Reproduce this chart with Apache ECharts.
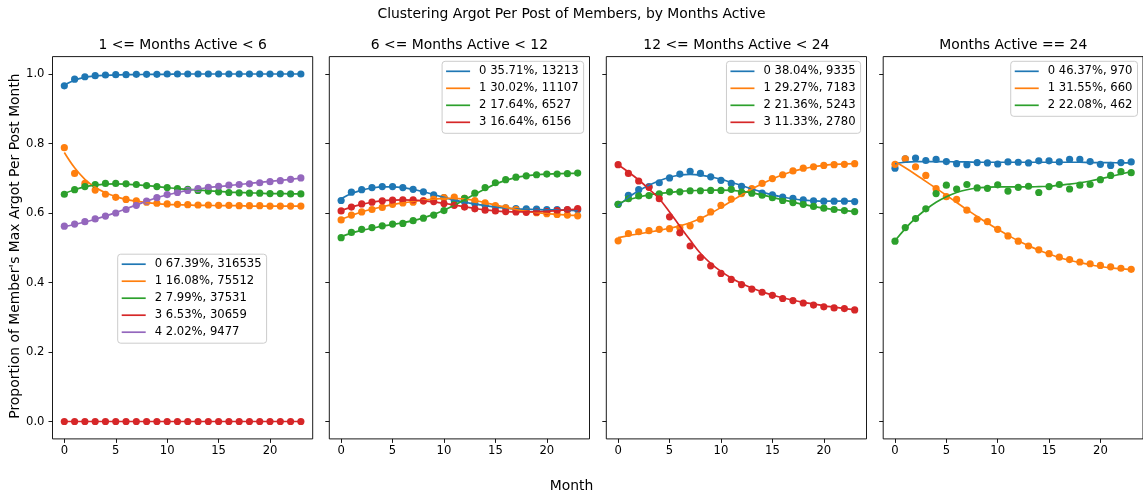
<!DOCTYPE html>
<html>
<head>
<meta charset="utf-8">
<script src="https://cdn.jsdelivr.net/npm/echarts@6/dist/echarts.min.js"></script>
<style>
  html, body { margin: 0; padding: 0; background: #fff; }
  #chart { width: 1143px; height: 499px; }
</style>
</head>
<body>
<div id="chart"></div>
<script>
// Month index along each panel's x axis
const months = [0,1,2,3,4,5,6,7,8,9,10,11,12,13,14,15,16,17,18,19,20,21,22,23];
const xTicks = [0, 5, 10, 15, 20];
const yTicks = [0, 0.2, 0.4, 0.6, 0.8, 1.0];

const suptitle = 'Clustering Argot Per Post of Members, by Months Active';
const panelTitles = ['1 <= Months Active < 6', '6 <= Months Active < 12', '12 <= Months Active < 24', 'Months Active == 24'];
const xLabel = 'Month';
const yLabel = "Proportion of Member's Max Argot Per Post Month";

// Panel 1: 1 <= months active < 6
const p1Names = ['0 67.39%, 316535', '1 16.08%, 75512', '2 7.99%, 37531', '3 6.53%, 30659', '4 2.02%, 9477'];
const p1c0 = [0.966,0.985,0.992,0.995,0.997,0.998,0.998,0.999,0.999,0.999,1.0,1.0,1.0,1.0,1.0,1.0,1.0,1.0,1.0,1.0,1.0,1.0,1.0,1.0];
const p1c1 = [0.788,0.714,0.685,0.666,0.654,0.645,0.639,0.635,0.631,0.628,0.626,0.625,0.624,0.623,0.623,0.622,0.622,0.621,0.621,0.621,0.620,0.620,0.620,0.620];
const p1c2 = [0.654,0.667,0.676,0.682,0.685,0.685,0.684,0.682,0.679,0.676,0.673,0.670,0.668,0.665,0.663,0.661,0.659,0.658,0.657,0.657,0.656,0.656,0.655,0.655];
const p1c3 = [0,0,0,0,0,0,0,0,0,0,0,0,0,0,0,0,0,0,0,0,0,0,0,0];
const p1c4 = [0.562,0.568,0.575,0.583,0.591,0.600,0.610,0.622,0.634,0.644,0.653,0.659,0.665,0.670,0.674,0.677,0.680,0.682,0.684,0.687,0.690,0.693,0.697,0.701];
const p1f0 = [0.968,0.982,0.990,0.994,0.996,0.997,0.998,0.998,0.999,0.999,0.999,1.0,1.0,1.0,1.0,1.0,1.0,1.0,1.0,1.0,1.0,1.0,1.0,1.0];
const p1f1 = [0.774,0.730,0.697,0.674,0.658,0.647,0.639,0.634,0.630,0.627,0.625,0.624,0.623,0.622,0.622,0.621,0.621,0.621,0.620,0.620,0.620,0.620,0.620,0.620];
const p1f2 = [0.656,0.667,0.675,0.680,0.683,0.684,0.683,0.681,0.679,0.676,0.673,0.670,0.668,0.666,0.664,0.662,0.660,0.659,0.658,0.657,0.656,0.656,0.655,0.655];
const p1f3 = [0,0,0,0,0,0,0,0,0,0,0,0,0,0,0,0,0,0,0,0,0,0,0,0];
const p1f4 = [0.561,0.567,0.574,0.582,0.591,0.601,0.612,0.623,0.634,0.644,0.652,0.659,0.665,0.669,0.673,0.676,0.679,0.682,0.685,0.688,0.691,0.694,0.697,0.700];

// Panel 2: 6 <= months active < 12
const p2Names = ['0 35.71%, 13213', '1 30.02%, 11107', '2 17.64%, 6527', '3 16.64%, 6156'];
const p2c0 = [0.636,0.660,0.667,0.673,0.676,0.676,0.673,0.668,0.661,0.652,0.644,0.637,0.632,0.627,0.622,0.618,0.615,0.613,0.612,0.611,0.610,0.610,0.609,0.609];
const p2c1 = [0.580,0.594,0.603,0.610,0.616,0.625,0.629,0.631,0.635,0.640,0.644,0.646,0.642,0.636,0.629,0.621,0.615,0.610,0.604,0.601,0.598,0.596,0.594,0.592];
const p2c2 = [0.529,0.544,0.553,0.558,0.563,0.568,0.570,0.578,0.585,0.594,0.607,0.625,0.642,0.657,0.673,0.687,0.696,0.703,0.707,0.710,0.712,0.712,0.713,0.715];
const p2c3 = [0.606,0.617,0.626,0.631,0.635,0.637,0.638,0.638,0.635,0.633,0.627,0.622,0.617,0.612,0.608,0.606,0.604,0.603,0.602,0.603,0.604,0.607,0.610,0.613];
const p2f0 = [0.641,0.656,0.666,0.672,0.675,0.675,0.673,0.668,0.661,0.653,0.645,0.637,0.631,0.626,0.621,0.617,0.614,0.612,0.611,0.610,0.609,0.609,0.608,0.607];
const p2f1 = [0.582,0.593,0.603,0.611,0.618,0.624,0.629,0.633,0.637,0.640,0.642,0.642,0.640,0.636,0.630,0.623,0.616,0.610,0.605,0.601,0.598,0.596,0.594,0.593];
const p2f2 = [0.532,0.542,0.550,0.556,0.562,0.567,0.572,0.578,0.586,0.596,0.608,0.622,0.638,0.654,0.669,0.683,0.694,0.702,0.707,0.710,0.712,0.713,0.714,0.714];
const p2f3 = [0.607,0.617,0.625,0.631,0.635,0.637,0.638,0.637,0.635,0.632,0.628,0.623,0.618,0.613,0.609,0.606,0.604,0.603,0.603,0.604,0.605,0.607,0.609,0.611];

// Panel 3: 12 <= months active < 24
const p3Names = ['0 38.04%, 9335', '1 29.27%, 7183', '2 21.36%, 5243', '3 11.33%, 2780'];
const p3c0 = [0.625,0.651,0.667,0.676,0.687,0.701,0.712,0.720,0.714,0.704,0.694,0.685,0.677,0.666,0.657,0.652,0.646,0.642,0.638,0.635,0.634,0.634,0.634,0.633];
const p3c1 = [0.520,0.541,0.546,0.549,0.553,0.555,0.558,0.563,0.582,0.603,0.622,0.640,0.656,0.670,0.685,0.699,0.710,0.721,0.729,0.733,0.737,0.739,0.740,0.742];
const p3c2 = [0.625,0.641,0.649,0.650,0.655,0.661,0.661,0.664,0.664,0.665,0.665,0.668,0.660,0.657,0.651,0.644,0.636,0.630,0.625,0.619,0.614,0.610,0.607,0.604];
const p3c3 = [0.739,0.714,0.692,0.674,0.641,0.589,0.543,0.505,0.472,0.448,0.426,0.409,0.394,0.381,0.372,0.363,0.354,0.348,0.341,0.335,0.330,0.327,0.325,0.321];
const p3f0 = [0.620,0.645,0.664,0.680,0.693,0.703,0.709,0.711,0.709,0.704,0.697,0.688,0.679,0.669,0.660,0.652,0.646,0.641,0.637,0.635,0.634,0.634,0.634,0.634];
const p3f1 = [0.529,0.535,0.540,0.545,0.550,0.556,0.563,0.572,0.584,0.599,0.616,0.634,0.652,0.669,0.684,0.698,0.710,0.720,0.727,0.733,0.737,0.740,0.741,0.742];
const p3f2 = [0.627,0.638,0.646,0.652,0.656,0.659,0.662,0.664,0.665,0.666,0.666,0.665,0.662,0.658,0.652,0.645,0.638,0.631,0.625,0.619,0.614,0.610,0.607,0.604];
const p3f3 = [0.739,0.718,0.695,0.669,0.641,0.603,0.562,0.522,0.484,0.455,0.432,0.413,0.397,0.384,0.373,0.364,0.356,0.349,0.343,0.338,0.333,0.329,0.325,0.322];

// Panel 4: months active == 24
const p4Names = ['0 46.37%, 970', '1 31.55%, 660', '2 22.08%, 462'];
const p4c0 = [0.729,0.756,0.758,0.751,0.754,0.748,0.742,0.739,0.745,0.744,0.741,0.747,0.746,0.744,0.750,0.750,0.747,0.754,0.754,0.748,0.740,0.737,0.745,0.747];
const p4c1 = [0.740,0.756,0.733,0.708,0.670,0.647,0.639,0.608,0.582,0.575,0.553,0.534,0.519,0.505,0.494,0.483,0.473,0.466,0.459,0.454,0.449,0.445,0.441,0.438];
const p4c2 = [0.519,0.558,0.584,0.612,0.656,0.680,0.669,0.682,0.672,0.671,0.681,0.663,0.674,0.677,0.659,0.676,0.682,0.669,0.680,0.682,0.696,0.708,0.719,0.716];
const p4f0 = [0.742,0.746,0.748,0.748,0.748,0.748,0.747,0.747,0.746,0.746,0.746,0.746,0.746,0.746,0.746,0.746,0.746,0.746,0.746,0.745,0.745,0.745,0.744,0.744];
const p4f1 = [0.748,0.730,0.711,0.691,0.671,0.651,0.630,0.610,0.590,0.571,0.553,0.536,0.520,0.506,0.493,0.482,0.472,0.464,0.457,0.451,0.446,0.442,0.439,0.437];
const p4f2 = [0.520,0.555,0.585,0.610,0.631,0.647,0.659,0.667,0.672,0.674,0.675,0.675,0.675,0.675,0.676,0.677,0.680,0.683,0.687,0.692,0.698,0.705,0.712,0.719];

const palette = ['#1f77b4', '#ff7f0e', '#2ca02c', '#d62728', '#9467bd'];

const panels = [
  { names: p1Names, points: [p1c0, p1c1, p1c2, p1c3, p1c4], fits: [p1f0, p1f1, p1f2, p1f3, p1f4] },
  { names: p2Names, points: [p2c0, p2c1, p2c2, p2c3], fits: [p2f0, p2f1, p2f2, p2f3] },
  { names: p3Names, points: [p3c0, p3c1, p3c2, p3c3], fits: [p3f0, p3f1, p3f2, p3f3] },
  { names: p4Names, points: [p4c0, p4c1, p4c2], fits: [p4f0, p4f1, p4f2] }
];

// Layout of the four side-by-side axes
const W = 1143;
const FONT = '"DejaVu Sans", sans-serif';
const TICK_PX = 11.6, TITLE_PX = 13.9;
const gridLefts = [52.5, 329.3, 606.3, 883.2];
const gridW = 260.2, gridTop = 56.6, gridH = 382.3;

const grids = [], xAxes = [], yAxes = [], series = [], legends = [], graphics = [];

panels.forEach((panel, p) => {
  grids.push({ left: gridLefts[p], top: gridTop, width: gridW, height: gridH,
    show: true, borderColor: '#000', borderWidth: 0.9, backgroundColor: '#fff' });

  xAxes.push({
    type: 'value', gridIndex: p, min: -1.15, max: 24.15,
    axisLine: { show: false, onZero: false },
    axisTick: { show: true, length: 4, customValues: xTicks, lineStyle: { color: '#000', width: 0.9 } },
    axisLabel: { customValues: xTicks, color: '#000', fontSize: TICK_PX, fontFamily: FONT, margin: 6 },
    splitLine: { show: false }
  });

  yAxes.push({
    type: 'value', gridIndex: p, min: -0.05, max: 1.05,
    axisLine: { show: false, onZero: false },
    axisTick: { show: true, length: 4, customValues: yTicks, lineStyle: { color: '#000', width: 0.9 } },
    axisLabel: { show: p === 0, customValues: yTicks, color: '#000', fontSize: TICK_PX, fontFamily: FONT, margin: 8,
      formatter: v => v.toFixed(1) },
    splitLine: { show: false }
  });

  panel.names.forEach((name, k) => {
    const color = palette[k];
    series.push({
      type: 'scatter', name, xAxisIndex: p, yAxisIndex: p,
      data: months.map((m, i) => [m, panel.points[k][i]]),
      symbol: 'circle', symbolSize: 7.2,
      itemStyle: { color, opacity: 1 },
      emphasis: { disabled: true }
    });
    series.push({
      type: 'line', name, xAxisIndex: p, yAxisIndex: p,
      data: months.map((m, i) => [m, panel.fits[k][i]]),
      showSymbol: false, smooth: 0.4,
      lineStyle: { color, width: 1.7 },
      itemStyle: { color },
      emphasis: { disabled: true }
    });
  });

  const legendBase = {
    data: panel.names, orient: 'vertical', icon: 'rect',
    itemWidth: 24, itemHeight: 1.7, itemGap: 4,
    padding: [3.5, 5, 4.5, 4],
    borderColor: '#cccccc', borderWidth: 1, borderRadius: 3,
    backgroundColor: 'rgba(255,255,255,0.8)',
    selectedMode: false,
    textStyle: { color: '#000', fontSize: TICK_PX, fontFamily: FONT, lineHeight: 13, padding: [0, 0, 0, 4] }
  };
  if (p === 0) {
    legends.push(Object.assign({}, legendBase, { left: 117.7, top: 254.2 }));
  } else {
    legends.push(Object.assign({}, legendBase, { right: W - (gridLefts[p] + gridW - 5.9), top: 61.3 }));
  }

  graphics.push({
    type: 'text', x: gridLefts[p] + gridW / 2, y: 45.5,
    style: { text: panelTitles[p], font: TITLE_PX + 'px ' + FONT, fill: '#000', align: 'center', verticalAlign: 'middle' }
  });
});

graphics.push({
  type: 'text', x: W / 2, y: 14,
  style: { text: suptitle, font: TITLE_PX + 'px ' + FONT, fill: '#000', align: 'center', verticalAlign: 'middle' }
});
graphics.push({
  type: 'text', x: W / 2, y: 486,
  style: { text: xLabel, font: TITLE_PX + 'px ' + FONT, fill: '#000', align: 'center', verticalAlign: 'middle' }
});
graphics.push({
  type: 'text', x: 15, y: 246, rotation: Math.PI / 2,
  style: { text: yLabel, font: TITLE_PX + 'px ' + FONT, fill: '#000', align: 'center', verticalAlign: 'middle' }
});

const chart = echarts.init(document.getElementById('chart'), null, { renderer: 'canvas' });
chart.setOption({
  animation: false,
  backgroundColor: '#fff',
  grid: grids,
  xAxis: xAxes,
  yAxis: yAxes,
  legend: legends,
  series: series,
  graphic: graphics
});
</script>
</body>
</html>
